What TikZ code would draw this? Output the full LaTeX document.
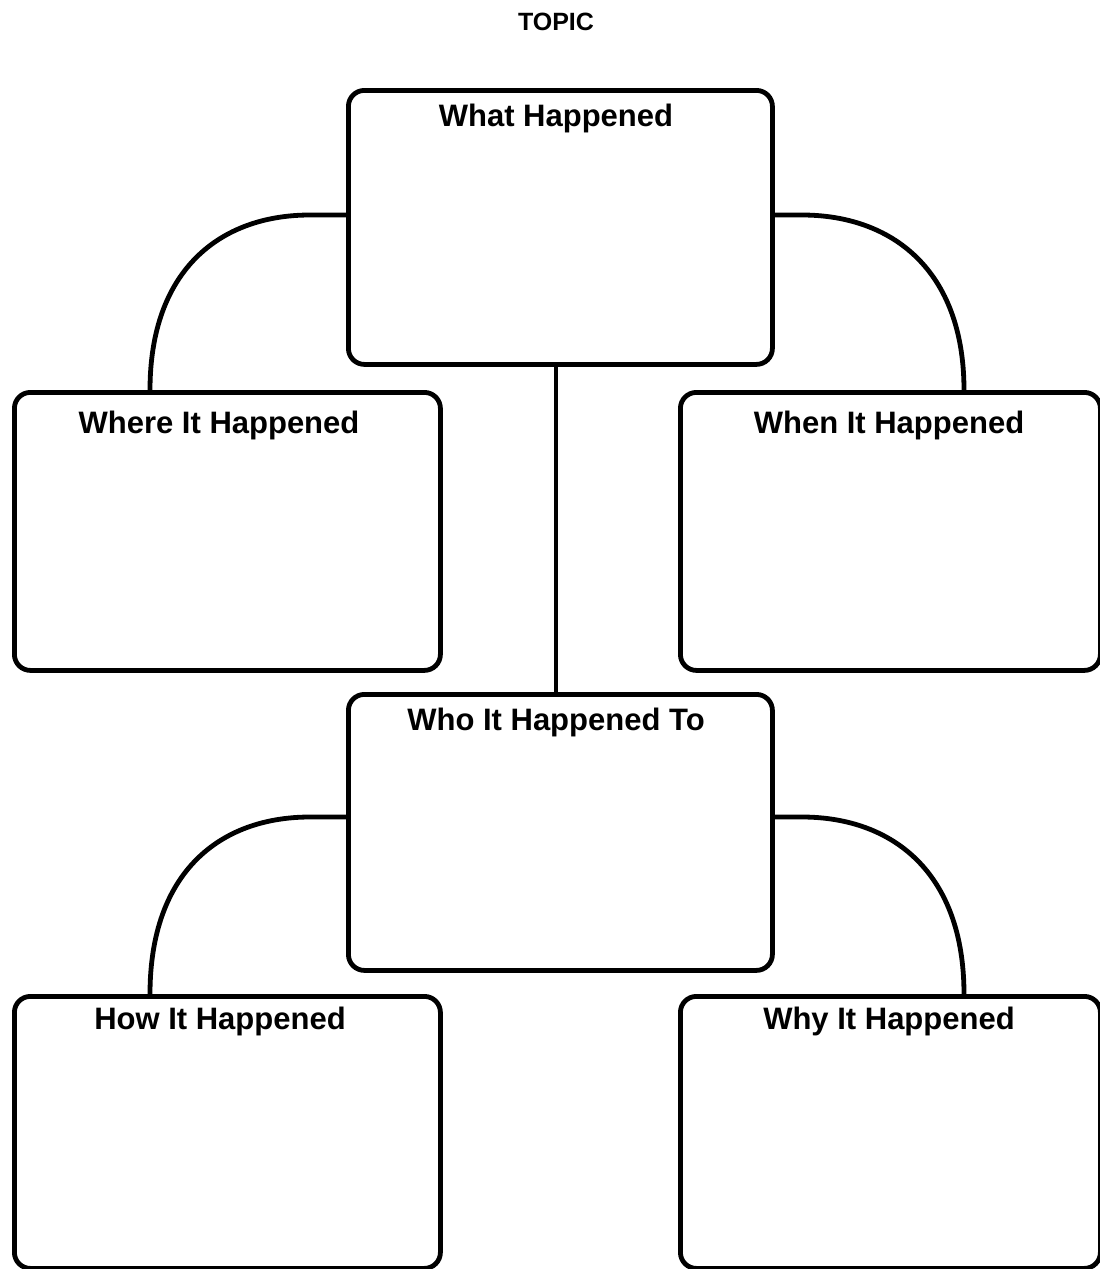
\documentclass[tikz,border=0pt]{standalone}
\usepackage{fontspec}
\setmainfont{Liberation Sans}
\begin{document}
\begin{tikzpicture}[x=1pt,y=-1pt,
  box/.style={draw,line width=4.8pt,rounded corners=16pt},
  lbl/.style={font=\fontsize{31}{32}\selectfont\bfseries,inner sep=0pt},
  conn/.style={line width=4.8pt}]
\useasboundingbox (0,0) rectangle (1100,1269);
\node[font=\fontsize{25}{26}\selectfont\bfseries,inner sep=0pt] (topic) at (556,22) {TOPIC};
% boxes
\node[box,minimum width=424pt,minimum height=274pt,anchor=north west] (what) at (346,88) {};
\node[box,minimum width=426pt,minimum height=278pt,anchor=north west] (where) at (12,390) {};
\node[box,minimum width=420pt,minimum height=278pt,anchor=north west] (when) at (678,390) {};
\node[box,minimum width=424pt,minimum height=276pt,anchor=north west] (who) at (346,692) {};
\node[box,minimum width=426pt,minimum height=272pt,anchor=north west] (how) at (12,994) {};
\node[box,minimum width=420pt,minimum height=272pt,anchor=north west] (why) at (678,994) {};
% labels
\node[lbl] (whatl) at (556,118) {What Happened};
\node[lbl] (wherel) at (219,425) {Where It Happened};
\node[lbl] (whenl) at (889,425) {When It Happened};
\node[lbl] (whol) at (556,722) {Who It Happened To};
\node[lbl] (howl) at (220,1021) {How It Happened};
\node[lbl] (whyl) at (889,1021) {Why It Happened};
% connectors
\coordinate (c1) at (what.west |- 0,215);
\coordinate (c2) at (what.east |- 0,215);
\coordinate (c3) at (who.west |- 0,817);
\coordinate (c4) at (who.east |- 0,817);
\draw[conn] (c1) -- (310,215) .. controls (220,215) and (150,270) .. (150,390) -- (where.north -| 150,0);
\draw[conn] (c2) -- (802,215) .. controls (892,215) and (964,270) .. (964,390) -- (when.north -| 964,0);
\draw[conn] (c3) -- (310,817) .. controls (220,817) and (150,872) .. (150,994) -- (how.north -| 150,0);
\draw[conn] (c4) -- (802,817) .. controls (892,817) and (964,872) .. (964,994) -- (why.north -| 964,0);
\draw[conn] (what.south -| 556,0) -- (who.north -| 556,0);
\end{tikzpicture}
\end{document}
